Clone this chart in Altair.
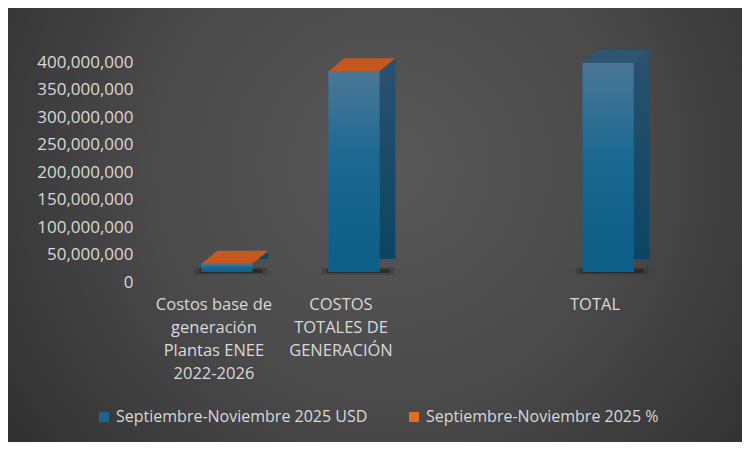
import altair as alt
import pandas as pd

# ---- data ----
categories = [
    "Costos base de\ngeneración\nPlantas ENEE\n2022-2026",
    "COSTOS\nTOTALES DE\nGENERACIÓN",
    " ",
    "TOTAL",
]
bar_categories = [categories[0], categories[1], categories[3]]
usd_values = [15_000_000, 365_000_000, 380_000_000]
pct_values = [4.0, 96.0, None]
series_names = ["Septiembre-Noviembre 2025 USD", "Septiembre-Noviembre 2025 %"]
y_ticks = [0, 50_000_000, 100_000_000, 150_000_000, 200_000_000,
           250_000_000, 300_000_000, 350_000_000, 400_000_000]

df = pd.DataFrame({
    "categoria": bar_categories,
    "usd": usd_values,
    "pct": pct_values,
    "serie": [series_names[0]] * len(bar_categories),
})

FONT = "Open Sans"
TXT = "#d9d9d9"
W, H = 559, 220
PAD = {"left": 130, "top": 54, "right": 45, "bottom": 160}
DX, DY = 16, 13
BW = 51
LIFT = -10

x_enc = alt.X("categoria:N", sort=categories,
              scale=alt.Scale(domain=categories, paddingInner=0.6, paddingOuter=0.5),
              axis=alt.Axis(title=None, labelExpr="split(datum.label, '\\n')",
                            labelAngle=0, labelColor=TXT, labelFont=FONT,
                            labelFontSize=16.5, labelLineHeight=23, labelPadding=14,
                            labelOffset=-13, domain=False, ticks=False,
                            labelBaseline="top", labelOverlap=False, zindex=2))
y_scale = alt.Scale(domain=[0, 400_000_000], nice=False)
y_axis = alt.Axis(title=None, values=y_ticks, format=",.0f",
                  labelColor=TXT, labelFont=FONT, labelFontSize=17,
                  labelPadding=5, domain=False, ticks=False, grid=False,
                  labelOverlap=False, labelFlush=False, zindex=2)
y_enc = alt.Y("usd:Q", scale=y_scale, axis=y_axis)
y_zero = alt.Y(datum=0, type="quantitative", scale=y_scale, axis=y_axis)

# background (decorative radial gradient)
bg = alt.Chart(alt.Data(values=[{"k": 1}])).mark_rect(
    clip=False,
    fill=alt.Gradient(gradient="radial",
                      stops=[alt.GradientStop(color="#585858", offset=0),
                             alt.GradientStop(color="#4a4a4a", offset=0.45),
                             alt.GradientStop(color="#2a2a2a", offset=1)],
                      x1=0.52, y1=0.42, x2=0.52, y2=0.42, r1=0, r2=0.72),
).encode(x=alt.value(-PAD["left"]), x2=alt.value(W + PAD["right"]),
         y=alt.value(-PAD["top"]), y2=alt.value(H + PAD["bottom"]))

base = alt.Chart(df)

shadow_wide = base.mark_tick(color="#1a1a1a", opacity=0.25, thickness=7, size=BW + 22,
                             xOffset=4, yOffset=LIFT - 1).encode(x=x_enc, y=y_zero)
shadow = base.mark_tick(color="#111111", opacity=0.45, thickness=4, size=BW + 12,
                        xOffset=4, yOffset=LIFT - 1).encode(x=x_enc, y=y_zero)

side = base.mark_bar(
    xOffset=DX, x2Offset=DX, yOffset=LIFT - DY, y2Offset=LIFT - DY, width=BW,
    fill=alt.Gradient(gradient="linear",
                      stops=[alt.GradientStop(color="#2b5170", offset=0),
                             alt.GradientStop(color="#0b4564", offset=1)],
                      x1=0, x2=0, y1=0, y2=1),
).encode(x=x_enc, y=y_enc)

front_flat = base.mark_bar(yOffset=LIFT, y2Offset=LIFT, width=BW, opacity=1).encode(
    x=x_enc, y=y_enc,
    color=alt.Color("serie:N",
                    scale=alt.Scale(domain=series_names, range=["#1b6690", "#e46c22"]),
                    legend=alt.Legend(title=None, orient="none", direction="horizontal",
                                      legendX=-42, legendY=347,
                                      symbolType="square", symbolSize=100,
                                      symbolStrokeWidth=0, symbolOpacity=1,
                                      labelColor=TXT, labelFont=FONT, labelFontSize=16,
                                      columnPadding=38, labelLimit=400, zindex=2)),
)

front_grad = base.mark_bar(
    yOffset=LIFT, y2Offset=LIFT, width=BW,
    fill=alt.Gradient(gradient="linear",
                      stops=[alt.GradientStop(color="#4a7896", offset=0),
                             alt.GradientStop(color="#1b6892", offset=0.45),
                             alt.GradientStop(color="#0d5d87", offset=1)],
                      x1=0, x2=0, y1=0, y2=1),
).encode(x=x_enc, y=y_enc)

cap_path = (f"M{-BW/2},0 L{BW/2},0 L{BW/2 + DX},{-DY} L{-BW/2 + DX},{-DY} Z")
cap = base.mark_point(shape=cap_path, size=4, filled=True, opacity=1,
                      strokeWidth=0, yOffset=LIFT).encode(
    x=x_enc, y=y_enc,
    fill=alt.condition("isValid(datum.pct)", alt.value("#c4581f"), alt.value("#2d5574")),
)

chart = alt.layer(bg, shadow_wide, shadow, side, front_flat, front_grad, cap).properties(
    width=W, height=H, autosize=alt.AutoSizeParams(type="none"),
    padding=PAD, background="#3a3a3a",
).configure_view(stroke=None).configure_axis(labelOverlap=False)

chart.save("out.html", embed_options={"renderer": "svg", "actions": False})
